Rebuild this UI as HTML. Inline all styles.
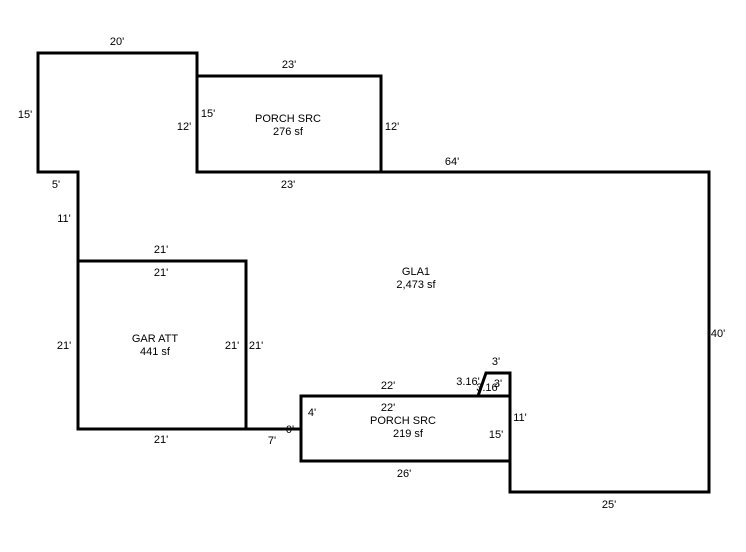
<!DOCTYPE html>
<html><head><style>
body{margin:0;background:#fff;}
svg text{font-family:"Liberation Sans",sans-serif;font-size:11px;fill:#000;}
</style></head><body>
<svg width="746" height="547" viewBox="0 0 746 547" xmlns="http://www.w3.org/2000/svg">
<g fill="none" stroke="#000" stroke-width="3" stroke-linejoin="miter">
<path d="M38,53 H197 V172 H709 V492 H510 V373 H486 L478,396 H301 V429 H78 V172 H38 Z"/>
<rect x="197" y="76" width="184" height="96"/>
<rect x="78" y="261" width="168" height="168"/>
<rect x="301" y="396" width="209" height="65"/>
</g>
<g text-anchor="middle">
<text x="117" y="45">20'</text>
<text x="289" y="68">23'</text>
<text x="25" y="118">15'</text>
<text x="184" y="130">12'</text>
<text x="208" y="117">15'</text>
<text x="288" y="122">PORCH SRC</text>
<text x="288" y="135">276 sf</text>
<text x="392" y="130">12'</text>
<text x="288" y="188">23'</text>
<text x="452" y="165">64'</text>
<text x="56" y="188">5'</text>
<text x="64" y="222">11'</text>
<text x="161" y="253">21'</text>
<text x="161" y="276">21'</text>
<text x="416" y="275">GLA1</text>
<text x="416" y="288">2,473 sf</text>
<text x="64" y="349">21'</text>
<text x="155" y="342">GAR ATT</text>
<text x="155" y="355">441 sf</text>
<text x="232" y="349">21'</text>
<text x="256" y="349">21'</text>
<text x="718" y="337">40'</text>
<text x="496" y="365">3'</text>
<text x="468" y="385">3.16'</text>
<text x="498" y="387">3'</text>
<text x="488" y="391">3.16'</text>
<text x="388" y="389">22'</text>
<text x="388" y="411">22'</text>
<text x="312" y="416">4'</text>
<text x="403" y="424">PORCH SRC</text>
<text x="408" y="437">219 sf</text>
<text x="520" y="421">11'</text>
<text x="496" y="438">15'</text>
<text x="290" y="433">0'</text>
<text x="272" y="444">7'</text>
<text x="161" y="443">21'</text>
<text x="404" y="477">26'</text>
<text x="609" y="508">25'</text>
</g>
</svg>
</body></html>
